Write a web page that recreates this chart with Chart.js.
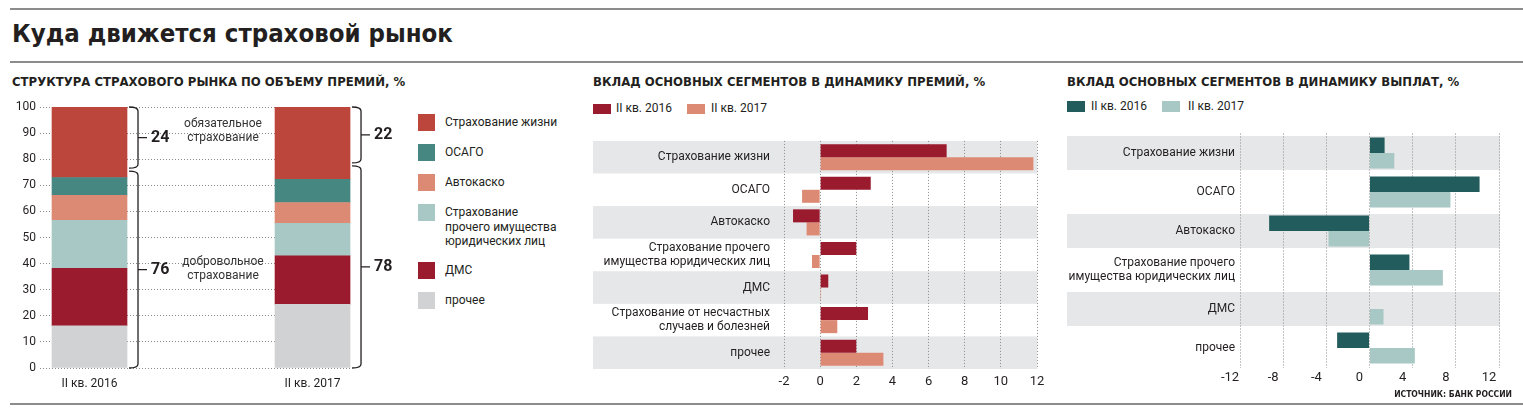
<!DOCTYPE html>
<html><head><meta charset="utf-8">
<script src="https://cdn.jsdelivr.net/npm/chart.js@4/dist/chart.umd.min.js"></script>
<style>
body{margin:0;width:1523px;height:416px;background:#fff;position:relative;overflow:hidden;font-family:Roboto,'Liberation Sans',sans-serif;color:#231f20}
.rule{position:absolute;left:10px;right:0;height:2px;background:#8c8c8c}
#title{position:absolute;left:12px;top:18px;font-weight:bold;font-size:25.5px;font-family:'DejaVu Sans Condensed','DejaVu Sans',sans-serif;white-space:nowrap}
.sub{position:absolute;top:74px;font-weight:bold;font-size:13px;font-family:'DejaVu Sans Condensed','DejaVu Sans',sans-serif;white-space:nowrap}
canvas{position:absolute}
.sw{position:absolute}
.lt{position:absolute;font-size:12px;line-height:14.5px;white-space:nowrap}
#src{position:absolute;right:11px;top:389px;font-weight:bold;font-size:8.5px;font-family:'DejaVu Sans Condensed','DejaVu Sans',sans-serif}
</style></head><body>
<div class="rule" style="top:8px"></div>
<div id="title">Куда движется страховой рынок</div>
<div class="rule" style="top:61px"></div>
<div class="sub" style="left:12px">СТРУКТУРА СТРАХОВОГО РЫНКА ПО ОБЪЕМУ ПРЕМИЙ, %</div>
<div class="sub" style="left:593px">ВКЛАД ОСНОВНЫХ СЕГМЕНТОВ В ДИНАМИКУ ПРЕМИЙ, %</div>
<div class="sub" style="left:1067px">ВКЛАД ОСНОВНЫХ СЕГМЕНТОВ В ДИНАМИКУ ВЫПЛАТ, %</div>
<canvas id="c1" width="400" height="300" style="left:0;top:95px"></canvas>
<canvas id="c2" width="470" height="275" style="left:580px;top:120px"></canvas>
<canvas id="c3" width="463" height="275" style="left:1060px;top:120px"></canvas>
<div id="legends"></div>
<div id="src">ИСТОЧНИК: БАНК РОССИИ</div>
<div class="rule" style="top:403px"></div>
<script>
// ---------- DATA ----------
const structCategories = ['II кв. 2016', 'II кв. 2017'];
const segmentNames = ['Страхование жизни', 'ОСАГО', 'Автокаско', 'Страхование прочего имущества юридических лиц', 'ДМС', 'прочее'];
const shareLife = [27.0, 27.7];
const shareOsago = [6.8, 8.9];
const shareAutocasco = [9.6, 8.0];
const shareProperty = [18.4, 12.4];
const shareDms = [22.0, 18.6];
const shareOther = [16.2, 24.4];
const mandatoryShare = [24, 22];
const voluntaryShare = [76, 78];
const structTicks = [0, 10, 20, 30, 40, 50, 60, 70, 80, 90, 100];

const periodLabels = ['II кв. 2016', 'II кв. 2017'];

const premiumCategories = [['Страхование жизни'], ['ОСАГО'], ['Автокаско'], ['Страхование прочего', 'имущества юридических лиц'], ['ДМС'], ['Страхование от несчастных', 'случаев и болезней'], ['прочее']];
const premium2016 = [7.0, 2.8, -1.5, 2.0, 0.45, 2.65, 2.0];
const premium2017 = [11.8, -1.0, -0.75, -0.45, 0.05, 0.95, 3.5];
const premiumTicks = [-2, 0, 2, 4, 6, 8, 10, 12];

const payoutCategories = [['Страхование жизни'], ['ОСАГО'], ['Автокаско'], ['Страхование прочего', 'имущества юридических лиц'], ['ДМС'], ['прочее']];
const payout2016 = [1.4, 10.2, -9.3, 3.7, 0, -3.0];
const payout2017 = [2.3, 7.5, -3.8, 6.8, 1.3, 4.2];
const payoutTicks = [-12, -8, -4, 0, 4, 8, 12];

// ---------- STYLE ----------
const C = {
  life: '#bc463c', osago: '#468782', auto: '#dc8a74', prop: '#a7c8c4', dms: '#9a1a2e', other: '#d1d2d4',
  darkTeal: '#235c5c', band: '#e6e7e8', grid: '#8a8a8a', text: '#231f20'
};
Chart.defaults.font.family = "Roboto, 'Liberation Sans', sans-serif";
Chart.defaults.color = C.text;
Chart.defaults.animation = false;

// ---------- LEGENDS (HTML) ----------
const leg = document.getElementById('legends');
function sw(x, y, w, h, col) { const d = document.createElement('div'); d.className = 'sw'; Object.assign(d.style, {left: x + 'px', top: y + 'px', width: w + 'px', height: h + 'px', background: col}); leg.appendChild(d); }
function lt(x, y, html) { const d = document.createElement('div'); d.className = 'lt'; d.style.left = x + 'px'; d.style.top = y + 'px'; d.innerHTML = html; leg.appendChild(d); }
const segColors = [C.life, C.osago, C.auto, C.prop, C.dms, C.other];
const legTops = [114, 144, 174, 204, 262, 292];
segmentNames.forEach((n, i) => {
  sw(418, legTops[i], 17, 17, segColors[i]);
  const txt = i === 3 ? 'Страхование<br>прочего имущества<br>юридических лиц' : n;
  lt(445, legTops[i] + 1, txt);
});
sw(593, 104, 18, 10, C.dms); lt(616, 101, periodLabels[0]);
sw(687, 104, 18, 10, C.auto); lt(711, 101, periodLabels[1]);
sw(1067, 101, 18, 11, C.darkTeal); lt(1091, 99, periodLabels[0]);
sw(1162, 101, 18, 11, C.prop); lt(1188, 99, periodLabels[1]);

// ---------- PLUGINS ----------
const rowBands = {
  id: 'rowBands',
  beforeDraw(chart, args, o) {
    const {ctx, chartArea, scales: {y}} = chart;
    const n = chart.data.labels.length;
    const pitch = (y.bottom - y.top) / n;
    const h = pitch * o.frac;
    ctx.save(); ctx.fillStyle = o.color;
    for (let i = 0; i < n; i += 2) {
      const c = y.getPixelForValue(i);
      ctx.fillRect(o.left, c - h / 2, chartArea.right + o.extra - o.left, h);
    }
    ctx.restore();
  }
};

function bracket(ctx, x0, yt, yb, w, tk) {
  const r = 4;
  ctx.beginPath();
  ctx.moveTo(x0, yt);
  ctx.quadraticCurveTo(x0 + w, yt, x0 + w, yt + r);
  ctx.lineTo(x0 + w, yb - r);
  ctx.quadraticCurveTo(x0 + w, yb, x0, yb);
  const ym = (yt + yb) / 2;
  ctx.moveTo(x0 + w, ym); ctx.lineTo(x0 + w + tk, ym);
  ctx.stroke();
  return ym;
}
const brackets = {
  id: 'brackets',
  afterDatasetsDraw(chart) {
    const {ctx, scales: {y}} = chart;
    const meta = chart.getDatasetMeta(chart.data.datasets.length - 1);
    const meta2 = chart.getDatasetMeta(0);
    ctx.save();
    ctx.strokeStyle = C.text; ctx.fillStyle = C.text; ctx.lineWidth = 1.3;
    const w = 9, tk = 9;
    const mids = [];
    structCategories.forEach((c, i) => {
      const bar = meta.data[i];
      const right = bar.x + bar.width / 2;
      const x0 = right + 2;
      const split = 100 - mandatoryShare[i];
      const m1 = bracket(ctx, x0, y.getPixelForValue(100), y.getPixelForValue(split) - 1.5, w, tk);
      const m2 = bracket(ctx, x0, y.getPixelForValue(split) + 1.5, y.getPixelForValue(0), w, tk);
      ctx.font = "bold 16px Roboto, 'Liberation Sans', sans-serif";
      ctx.textAlign = 'left'; ctx.textBaseline = 'middle';
      ctx.fillText(String(mandatoryShare[i]), x0 + w + tk + 4, m1);
      ctx.fillText(String(voluntaryShare[i]), x0 + w + tk + 4, m2);
      mids.push([m1, m2, x0 + w + tk + 24]);
    });
    const b2 = meta2.data[1];
    const cx = (mids[0][2] + (b2.x - b2.width / 2)) / 2;
    ctx.font = "12px Roboto, 'Liberation Sans', sans-serif";
    ctx.textAlign = 'center';
    ctx.fillStyle = '#333';
    ctx.fillText('обязательное', cx, mids[0][0] - 14);
    ctx.fillText('страхование', cx, mids[0][0]);
    ctx.fillText('добровольное', cx, mids[0][1] - 8);
    ctx.fillText('страхование', cx, mids[0][1] + 6);
    ctx.restore();
  }
};

// ---------- CHART 1: structure ----------
const mk = (arr) => arr.map((v, i) => ({x: i, y: v}));
new Chart(document.getElementById('c1'), {
  type: 'bar',
  data: {
    datasets: [
      {label: segmentNames[5], data: mk(shareOther), backgroundColor: C.other},
      {label: segmentNames[4], data: mk(shareDms), backgroundColor: C.dms},
      {label: segmentNames[3], data: mk(shareProperty), backgroundColor: C.prop},
      {label: segmentNames[2], data: mk(shareAutocasco), backgroundColor: C.auto},
      {label: segmentNames[1], data: mk(shareOsago), backgroundColor: C.osago},
      {label: segmentNames[0], data: mk(shareLife), backgroundColor: C.life}
    ]
  },
  options: {
    responsive: false, devicePixelRatio: 1,
    layout: {padding: {top: 12, right: 48, bottom: 0, left: 0}},
    datasets: {bar: {barThickness: 75}},
    plugins: {legend: {display: false}, tooltip: {enabled: false}},
    scales: {
      x: {
        type: 'linear', stacked: true, min: -0.222, max: 1.177, offset: false,
        afterBuildTicks: (s) => { s.ticks = structCategories.map((c, i) => ({value: i})); },
        afterFit: (s) => { s.height = 27; },
        ticks: {callback: (v) => structCategories[v], padding: 9, font: {size: 12}, maxRotation: 0, autoSkip: false},
        grid: {display: false, drawTicks: false, offset: false}, border: {display: false}
      },
      y: {
        stacked: true, min: 0, max: 100,
        afterBuildTicks: (s) => { s.ticks = structTicks.map(v => ({value: v})); },
        afterFit: (s) => { s.width = 40; },
        ticks: {padding: 4, font: {size: 12}},
        grid: {color: C.grid, lineWidth: 1, drawTicks: false},
        border: {display: false, dash: [1, 2]}
      }
    }
  },
  plugins: [brackets]
});

// ---------- CHART 2: premiums ----------
new Chart(document.getElementById('c2'), {
  type: 'bar',
  data: {
    labels: premiumCategories,
    datasets: [
      {label: periodLabels[0], data: premium2016, backgroundColor: C.dms},
      {label: periodLabels[1], data: premium2017, backgroundColor: C.auto}
    ]
  },
  options: {
    indexAxis: 'y', responsive: false, devicePixelRatio: 1,
    layout: {padding: {top: 13, right: 13, bottom: 0, left: 0}},
    datasets: {bar: {categoryPercentage: 0.8, barPercentage: 1.0}},
    plugins: {legend: {display: false}, tooltip: {enabled: false}, rowBands: {color: C.band, left: 13, extra: 0, frac: 1}},
    scales: {
      x: {
        min: -2, max: 12,
        afterBuildTicks: (s) => { s.ticks = premiumTicks.map(v => ({value: v})); },
        afterFit: (s) => { s.height = 26; },
        ticks: {padding: 5, font: {size: 13}},
        grid: {color: C.grid, drawTicks: false},
        border: {display: false, dash: [1, 2]}
      },
      y: {
        afterFit: (s) => { s.width = 204; },
        ticks: {padding: 14, font: {size: 12, lineHeight: 1.15}},
        grid: {display: false, drawTicks: false}, border: {display: false}
      }
    }
  },
  plugins: [rowBands]
});

// ---------- CHART 3: payouts ----------
new Chart(document.getElementById('c3'), {
  type: 'bar',
  data: {
    labels: payoutCategories,
    datasets: [
      {label: periodLabels[0], data: payout2016, backgroundColor: C.darkTeal},
      {label: periodLabels[1], data: payout2017, backgroundColor: C.prop}
    ]
  },
  options: {
    indexAxis: 'y', responsive: false, devicePixelRatio: 1,
    layout: {padding: {top: 13.5, right: 24, bottom: 0, left: 0}},
    datasets: {bar: {categoryPercentage: 0.8, barPercentage: 1.0}},
    plugins: {legend: {display: false}, tooltip: {enabled: false}, rowBands: {color: C.band, left: 7, extra: 1, frac: 0.87}},
    scales: {
      x: {
        min: -12, max: 12,
        afterBuildTicks: (s) => { s.ticks = payoutTicks.map(v => ({value: v})); },
        afterFit: (s) => { s.height = 27.5; },
        ticks: {padding: 2, font: {size: 13}, labelOffset: -10},
        grid: {color: C.grid, drawTicks: false},
        border: {display: false, dash: [1, 2]}
      },
      y: {
        afterFit: (s) => { s.width = 180; },
        ticks: {padding: 5, font: {size: 12, lineHeight: 1.15}},
        grid: {display: false, drawTicks: false}, border: {display: false}
      }
    }
  },
  plugins: [rowBands]
});
</script>
</body></html>
